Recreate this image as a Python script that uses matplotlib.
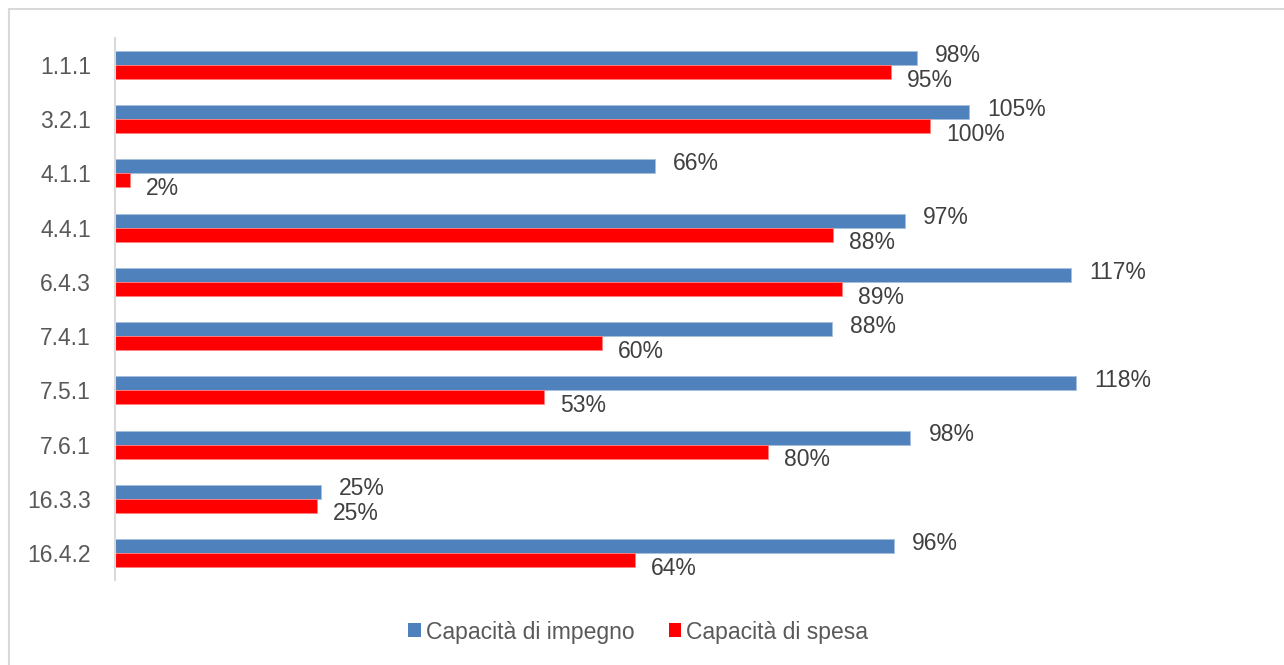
import matplotlib
matplotlib.use("Agg")
import matplotlib.pyplot as plt
import numpy as np
from matplotlib.patches import Rectangle

categories = ["1.1.1", "3.2.1", "4.1.1", "4.4.1", "6.4.3", "7.4.1", "7.5.1", "7.6.1", "16.3.3", "16.4.2"]
impegno = [98.4, 104.8, 66.3, 96.9, 117.3, 88.0, 117.9, 97.6, 25.3, 95.6]
spesa = [95.2, 100.0, 1.9, 88.1, 89.2, 59.8, 52.7, 80.1, 24.8, 63.8]
series_names = ["Capacità di impegno", "Capacità di spesa"]

BLUE = "#4F81BD"
RED = "#FF0000"
TXT = "#595959"

plt.rcParams['font.family'] = ['Liberation Sans', 'DejaVu Sans']

W, H = 1284, 665
fig = plt.figure(figsize=(W / 100, H / 100), dpi=100)

# light border (top/left visible)
fig.patches.append(Rectangle((9 / W, -0.02), 1.05, (H - 9) / H + 0.02, transform=fig.transFigure,
                             fill=False, edgecolor="#D9D9D9", linewidth=1.5, clip_on=False))

ax_left, ax_right = 114.5, 1240
ax_top, ax_bot = 38, 580
ax = fig.add_axes([ax_left / W, 1 - ax_bot / H, (ax_right - ax_left) / W, (ax_bot - ax_top) / H])

px_per_unit = 8.155
ax.set_xlim(0, (ax_right - ax_left) / px_per_unit)
n = len(categories)
ax.set_ylim(n - 0.5, -0.5)

y = np.arange(n)
bh = 14 / 54.2
ax.barh(y - bh / 2, impegno, height=bh, color=BLUE, edgecolor="#A7BFDE", linewidth=0.6, label=series_names[0])
ax.barh(y + bh / 2, spesa, height=bh, color=RED, edgecolor="#FF8080", linewidth=0.6, label=series_names[1])

FS = 16.5
pt = 0.72
for i in range(n):
    ax.annotate(f"{impegno[i]:.0f}%", (impegno[i], y[i] - bh / 2), xytext=(18 * pt, -3.7 * pt),
                textcoords="offset points", ha="left", va="baseline", fontsize=FS, color="#404040")
    ax.annotate(f"{spesa[i]:.0f}%", (spesa[i], y[i] + bh / 2), xytext=(16 * pt, -14.7 * pt),
                textcoords="offset points", ha="left", va="baseline", fontsize=FS, color="#404040")

ax.set_yticks(y)
ax.set_yticklabels(categories, fontsize=FS, color=TXT)
ax.tick_params(axis="y", length=0, pad=17)
ax.set_xticks([])
for s in ["top", "right", "bottom"]:
    ax.spines[s].set_visible(False)
ax.spines["left"].set_color("#D9D9D9")
ax.spines["left"].set_linewidth(1.5)

leg = fig.legend(loc="center", bbox_to_anchor=(0.497, 1 - 632 / H), ncol=2, frameon=False,
                 fontsize=FS, handlelength=0.55, handleheight=0.55, handletextpad=0.2, columnspacing=1.5)
for t in leg.get_texts():
    t.set_color(TXT)
for h in leg.legend_handles:
    h.set_linewidth(0)

fig.savefig("out.png", dpi=100)
